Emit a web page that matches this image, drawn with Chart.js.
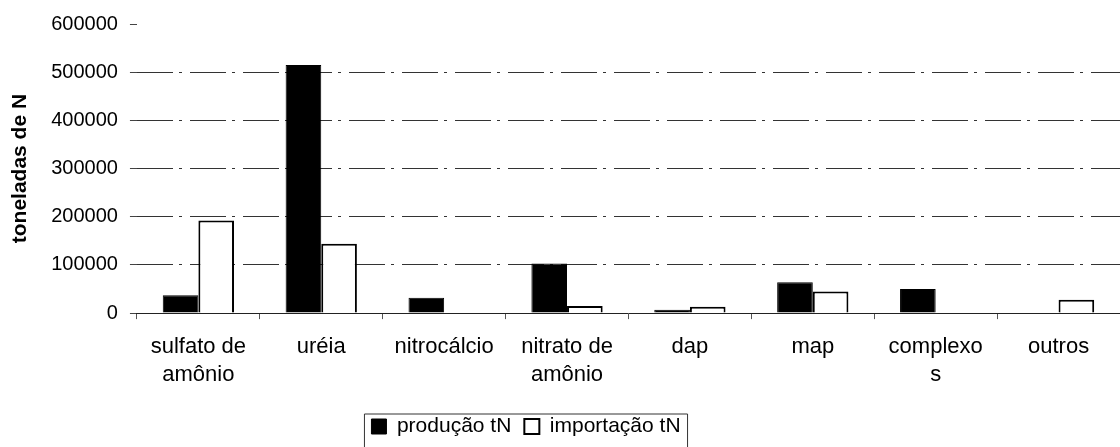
<!DOCTYPE html>
<html>
<head>
<meta charset="utf-8">
<script src="https://cdn.jsdelivr.net/npm/chart.js@4/dist/chart.umd.min.js"></script>
<style>
  body { margin: 0; background: #fff; }
  #wrap { width: 1120px; height: 447px; }
</style>
</head>
<body>
<div id="wrap"><canvas id="myChart" width="1120" height="447"></canvas></div>
<script>
// categories and values (toneladas de N)
var categorias = [['sulfato de', 'amônio'], 'uréia', 'nitrocálcio', ['nitrato de', 'amônio'], 'dap', 'map', ['complexo', 's'], 'outros'];
var producao = [37000, 515000, 32000, 103000, 7000, 64000, 50000, 0];
var importacao = [192000, 144000, 0, 15000, 13000, 45000, 0, 28000];
var yTicks = [0, 100000, 200000, 300000, 400000, 500000, 600000];

var fonte = "'Liberation Sans', Arial, sans-serif";

// move the legend a bit left and draw a box round it
var legendBox = {
    id: 'legendBox',
    afterLayout: function(chart) {
        chart.legend.left -= 36;
        chart.legend.right -= 36;
    },
    afterDraw: function(chart) {
        var boxes = chart.legend.legendHitBoxes;
        if (!boxes || !boxes.length) return;
        var x1 = boxes[0].left - 7;
        var last = boxes[boxes.length - 1];
        var x2 = last.left + last.width + 7;
        var y1 = boxes[0].top - 2;
        var ctx = chart.ctx;
        ctx.save();
        ctx.strokeStyle = '#333';
        ctx.lineWidth = 1;
        ctx.beginPath();
        ctx.moveTo(x1, 447);
        ctx.lineTo(x1, y1);
        ctx.lineTo(x2, y1);
        ctx.lineTo(x2, 447);
        ctx.stroke();
        ctx.restore();
    }
};

var ctx = document.getElementById('myChart');
var myChart = new Chart(ctx, {
    type: 'bar',
    data: {
        labels: categorias,
        datasets: [{
            label: 'produção tN',
            data: producao,
            backgroundColor: '#000',
            borderColor: '#000',
            borderWidth: 1
        }, {
            label: 'importação tN',
            data: importacao,
            backgroundColor: '#fff',
            borderColor: '#000',
            borderWidth: 2
        }]
    },
    options: {
        responsive: false,
        animation: false,
        layout: { padding: { top: 24, right: 0, left: 4, bottom: 0 } },
        datasets: {
            bar: { categoryPercentage: 0.58, barPercentage: 1 }
        },
        plugins: {
            tooltip: { enabled: false },
            legend: {
                position: 'bottom',
                labels: {
                    color: '#000',
                    font: { family: fonte, size: 21 },
                    boxWidth: 15,
                    boxHeight: 15,
                    padding: 13
                }
            }
        },
        scales: {
            x: {
                grid: { display: true, drawOnChartArea: false, drawTicks: true, tickLength: 6, offset: true, color: '#555' },
                border: { display: true, color: '#222', width: 1 },
                ticks: {
                    color: '#000',
                    font: { family: fonte, size: 22, lineHeight: 1.27 },
                    padding: 14,
                    maxRotation: 0,
                    autoSkip: false
                }
            },
            y: {
                min: 0,
                max: 600000,
                afterBuildTicks: function(axis) {
                    axis.ticks = yTicks.map(function(v) { return { value: v }; });
                },
                grid: {
                    color: function(c) {
                        if (c.tick && (c.tick.value === 600000 || c.tick.value === 0)) return 'rgba(0,0,0,0)';
                        return '#333';
                    },
                    tickColor: '#444',
                    tickLength: 7,
                    lineWidth: 1
                },
                border: { display: false, dash: [36, 6, 3, 8] },
                title: {
                    display: true,
                    text: 'toneladas de N',
                    color: '#000',
                    font: { family: fonte, size: 21, weight: 'bold' },
                    padding: { bottom: 6 }
                },
                ticks: {
                    color: '#000',
                    font: { family: fonte, size: 20 },
                    padding: 12,
                    callback: function(v) { return String(v); }
                }
            }
        }
    },
    plugins: [legendBox]
});
</script>
</body>
</html>
